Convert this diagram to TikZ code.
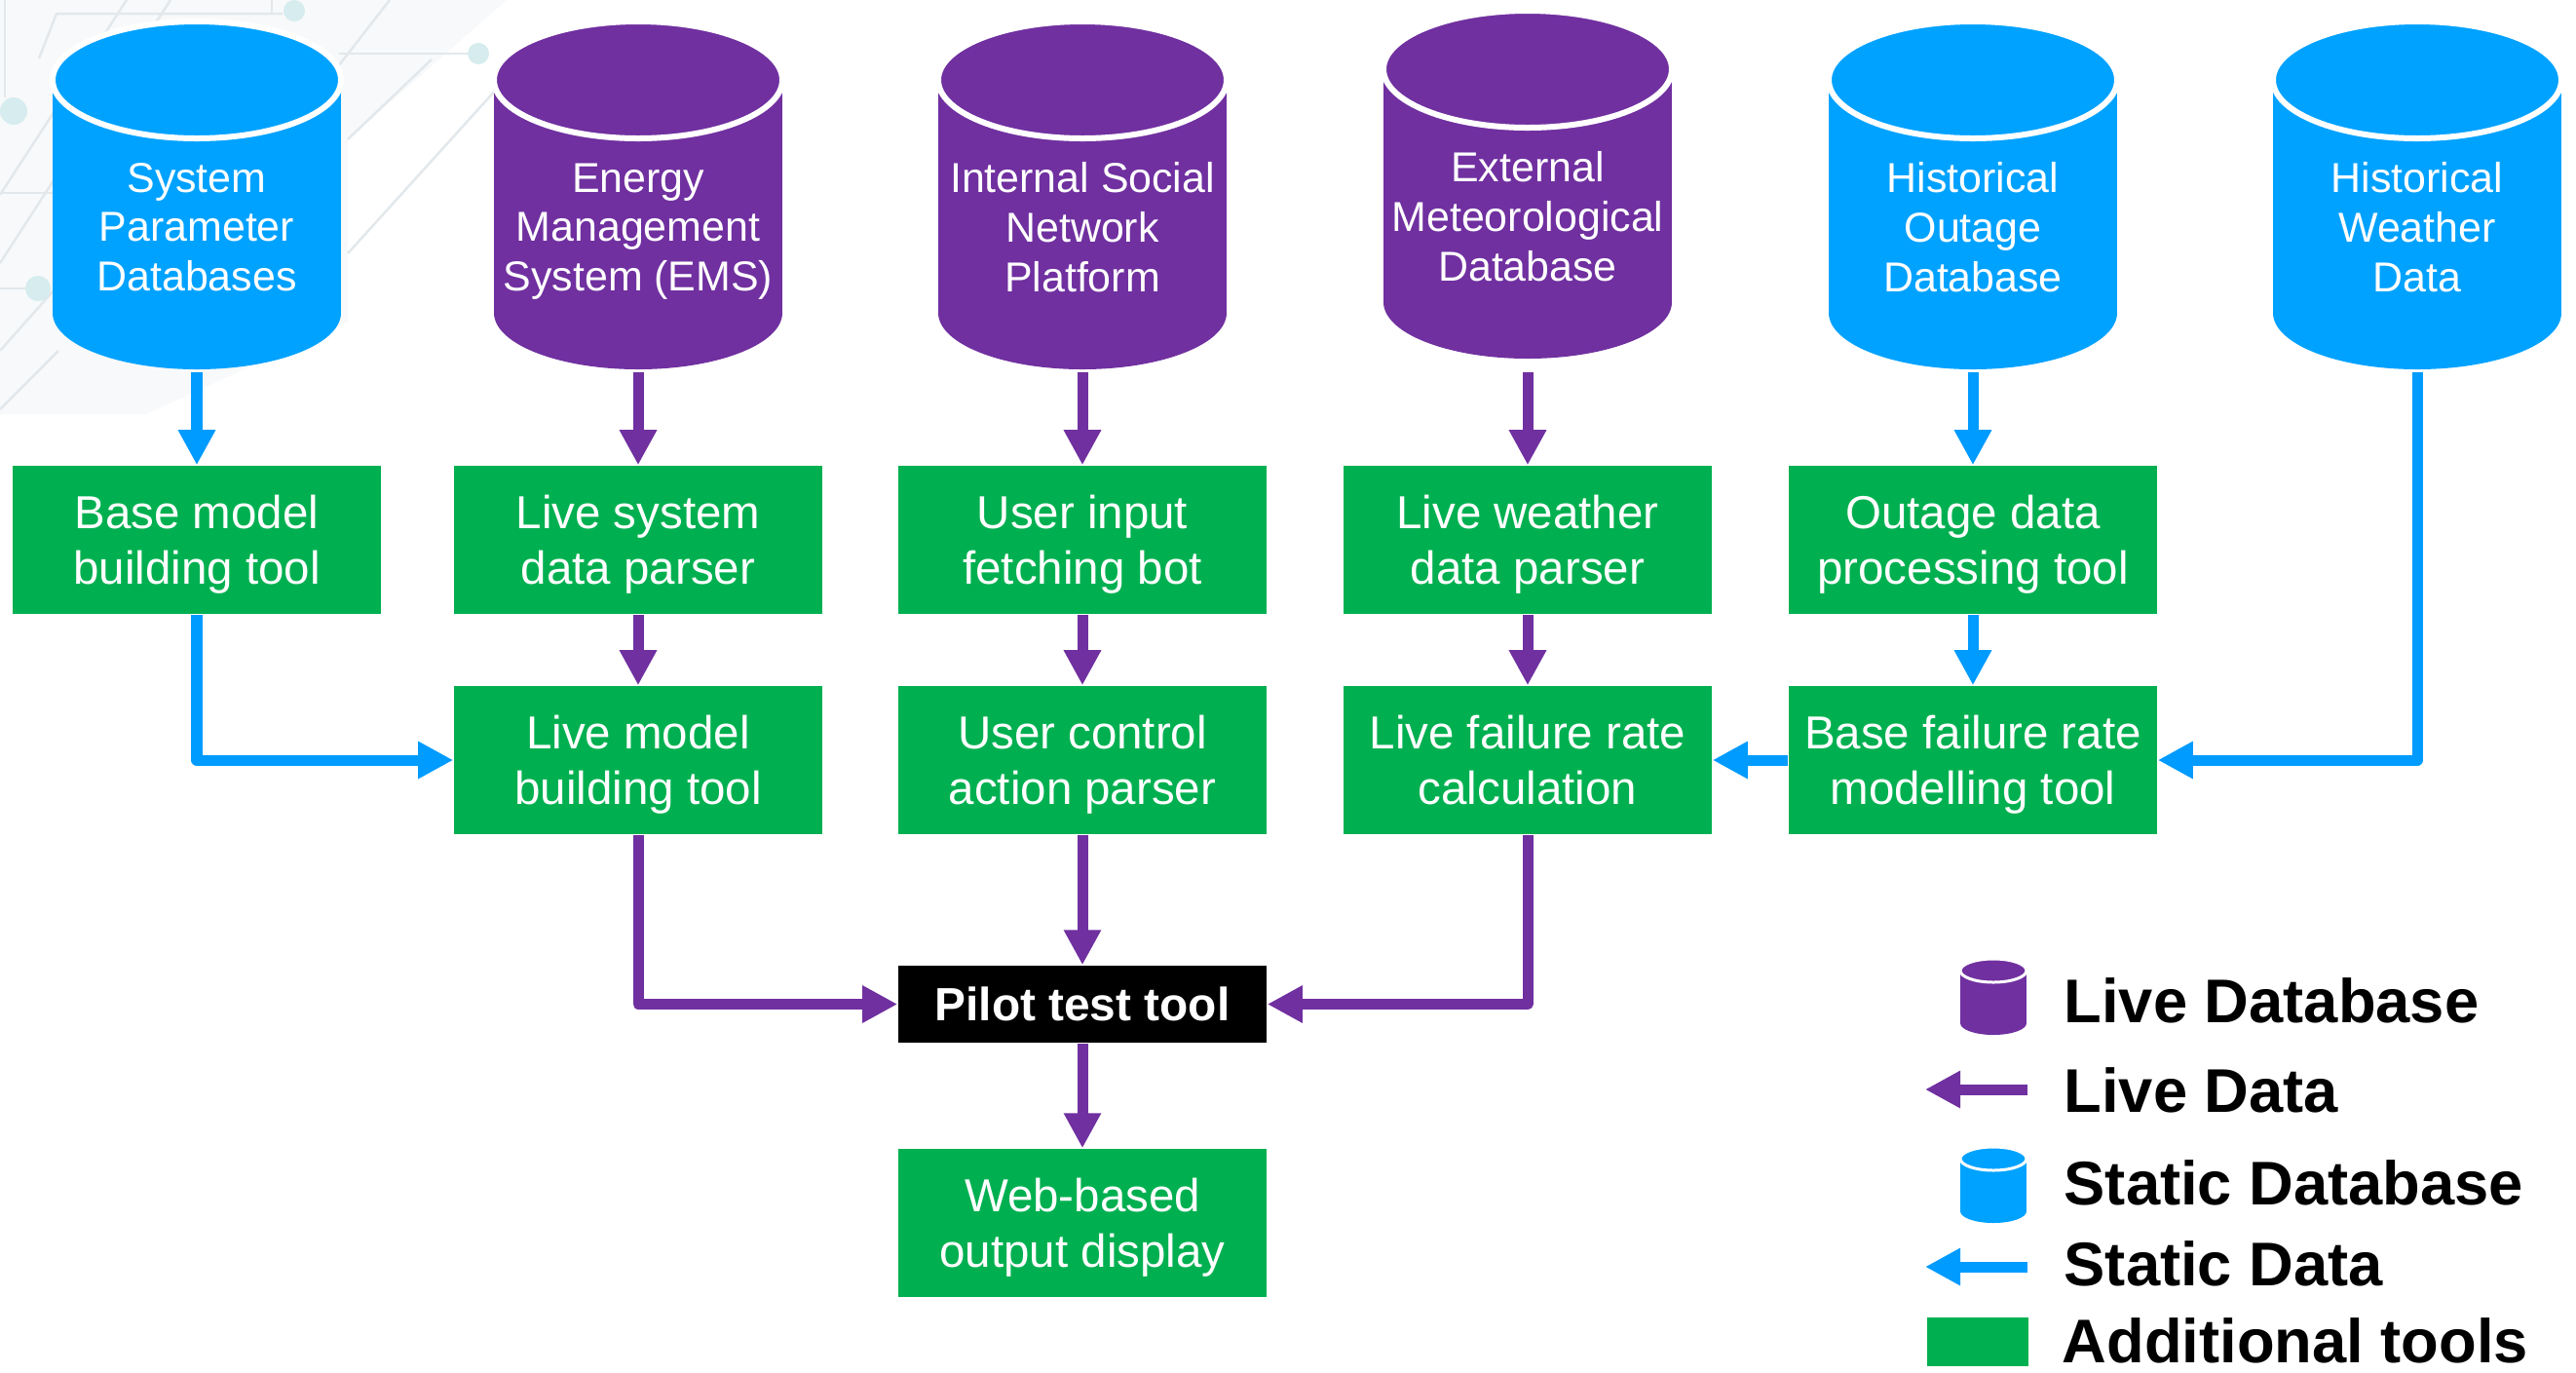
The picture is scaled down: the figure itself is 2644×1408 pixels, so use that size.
\documentclass[tikz,border=0pt]{standalone}
\usepackage{fontspec}
\setmainfont{Liberation Sans}
\usetikzlibrary{arrows.meta}
\definecolor{dbblue}{RGB}{0,162,255}
\definecolor{arblue}{RGB}{0,155,255}
\definecolor{dbpurple}{RGB}{112,48,160}
\definecolor{toolgreen}{RGB}{0,176,80}
\definecolor{bgline}{RGB}{226,232,236}
\definecolor{bgdot}{RGB}{214,236,238}
\definecolor{bgshade}{RGB}{248,249,250}
% #1 name, #2 x centre, #3 top y, #4 colour, #5 text
\newcommand\dbcyl[5]{%
  \fill[#4] (#2-148,#3+58) rectangle (#2+148,#3+299);
  \fill[#4] (#2,#3+299) ellipse[x radius=148,y radius=58];
  \filldraw[fill=#4,draw=white,line width=0.06cm] (#2,#3+60) ellipse[x radius=148,y radius=60];
  \node[dbtext] (#1) at (#2,#3+211) {#5};
  \coordinate (#1-b) at (#2,382);
}
% #1 name, #2 x centre, #3 top y, #4 colour
\newcommand\legcyl[4]{%
  \fill[#4] (#2-34,#3+12) rectangle (#2+34,#3+66);
  \fill[#4] (#2,#3+66) ellipse[x radius=34,y radius=12];
  \filldraw[fill=#4,draw=white,line width=0.03cm] (#2,#3+12) ellipse[x radius=34,y radius=12];
  \coordinate (#1) at (#2,#3+39);
}
\begin{document}
\begin{tikzpicture}[x=0.01cm,y=-0.01cm,
  tool/.style={fill=toolgreen,text=white,minimum width=3.78cm,minimum height=1.52cm,
    inner sep=0,align=center,text depth=0pt,font=\fontsize{13.5}{16.2}\selectfont},
  pilot/.style={fill=black,text=white,minimum width=3.78cm,minimum height=0.79cm,
    inner sep=0,font=\bfseries\fontsize{13.6}{16}\selectfont},
  dbtext/.style={text=white,align=center,inner sep=0,text depth=0pt,font=\fontsize{12.2}{14.4}\selectfont},
  conn/.style={line width=0.11cm,line join=round,-{Triangle[length=0.36cm,width=0.36cm]}},
  live/.style={conn,draw=dbpurple},
  stat/.style={conn,draw=arblue},
  legtext/.style={anchor=base west,inner sep=0,font=\bfseries\fontsize{18}{20}\selectfont}
]
\useasboundingbox (0,0) rectangle (2644,1408);
\fill[white] (0,0) rectangle (2644,1408);

% faint background decoration
\fill[bgshade] (0,0) -- (520,0) -- (357,143) -- (357,330) -- (150,425) -- (0,425) -- cycle;
\begin{scope}[draw=bgline,line width=0.025cm]
  \draw (5,0) -- (5,100);
  \draw (40,60) -- (58,14) -- (290,14);
  \draw (279,0) -- (279,14);
  \draw (348,55) -- (480,55);
  \draw (0,198) -- (54,198);
  \draw (0,296) -- (26,296);
  \draw (0,200) -- (130,0);
  \draw (0,270) -- (175,0);
  \draw (0,360) -- (120,225);
  \draw (0,420) -- (60,360);
  \draw (357,143) -- (443,61);
  \draw (357,260) -- (520,80);
  \draw (400,0) -- (330,90);
\end{scope}
\fill[bgdot] (14,114) circle[radius=14];
\fill[bgdot] (302,11) circle[radius=11];
\fill[bgdot] (491,55) circle[radius=11];
\fill[bgdot] (39,296) circle[radius=13];

% databases
\dbcyl{c1}{202}{22}{dbblue}{System\\Parameter\\Databases}
\dbcyl{c2}{655}{22}{dbpurple}{Energy\\Management\\System (EMS)}
\dbcyl{c3}{1111}{22}{dbpurple}{Internal Social\\Network\\Platform}
\dbcyl{c4}{1568}{11}{dbpurple}{External\\Meteorological\\Database}
\dbcyl{c5}{2025}{22}{dbblue}{Historical\\Outage\\Database}
\dbcyl{c6}{2481}{22}{dbblue}{Historical\\Weather\\Data}

% tools
\node[tool] (t1) at (202,554) {Base model\\building tool};
\node[tool] (t2) at (655,554) {Live system\\data parser};
\node[tool] (t3) at (1111,554) {User input\\fetching bot};
\node[tool] (t4) at (1568,554) {Live weather\\data parser};
\node[tool] (t5) at (2025,554) {Outage data\\processing tool};
\node[tool] (u2) at (655,780) {Live model\\building tool};
\node[tool] (u3) at (1111,780) {User control\\action parser};
\node[tool] (u4) at (1568,780) {Live failure rate\\calculation};
\node[tool] (u5) at (2025,780) {Base failure rate\\modelling tool};
\node[pilot] (p) at (1111,1030.5) {Pilot test tool};
\node[tool] (w) at (1111,1255) {Web-based\\output display};

% connectors
\draw[stat] (c1-b) -- (t1);
\draw[live] (c2-b) -- (t2);
\draw[live] (c3-b) -- (t3);
\draw[live] (c4-b) -- (t4);
\draw[stat] (c5-b) -- (t5);
\draw[stat] (t1.south) |- (u2.west);
\draw[live] (t2) -- (u2);
\draw[live] (t3) -- (u3);
\draw[live] (t4) -- (u4);
\draw[stat] (t5) -- (u5);
\draw[stat] (c6-b) |- (u5.east);
\draw[stat] (u5) -- (u4);
\draw[live] (u2.south) |- (p.west);
\draw[live] (u3) -- (p);
\draw[live] (u4.south) |- (p.east);
\draw[live] (p) -- (w);

% legend
\legcyl{lc1}{2046}{984}{dbpurple}
\legcyl{lc2}{2046}{1177}{dbblue}
\coordinate (la1s) at (2081,1118);
\coordinate (la1e) at (1976,1118);
\coordinate (la2s) at (2081,1300);
\coordinate (la2e) at (1976,1300);
\draw[live] (la1s) -- (la1e);
\draw[stat] (la2s) -- (la2e);
\node[fill=toolgreen,minimum width=1.04cm,minimum height=0.5cm,inner sep=0] (lg) at (2030,1377) {};
\node[legtext] (l1) at (2118,1049) {Live Database};
\node[legtext] (l2) at (2118,1141) {Live Data};
\node[legtext] (l3) at (2118,1236) {Static Database};
\node[legtext] (l4) at (2118,1319) {Static Data};
\node[legtext] (l5) at (2116,1398) {Additional tools};
\end{tikzpicture}
\end{document}
